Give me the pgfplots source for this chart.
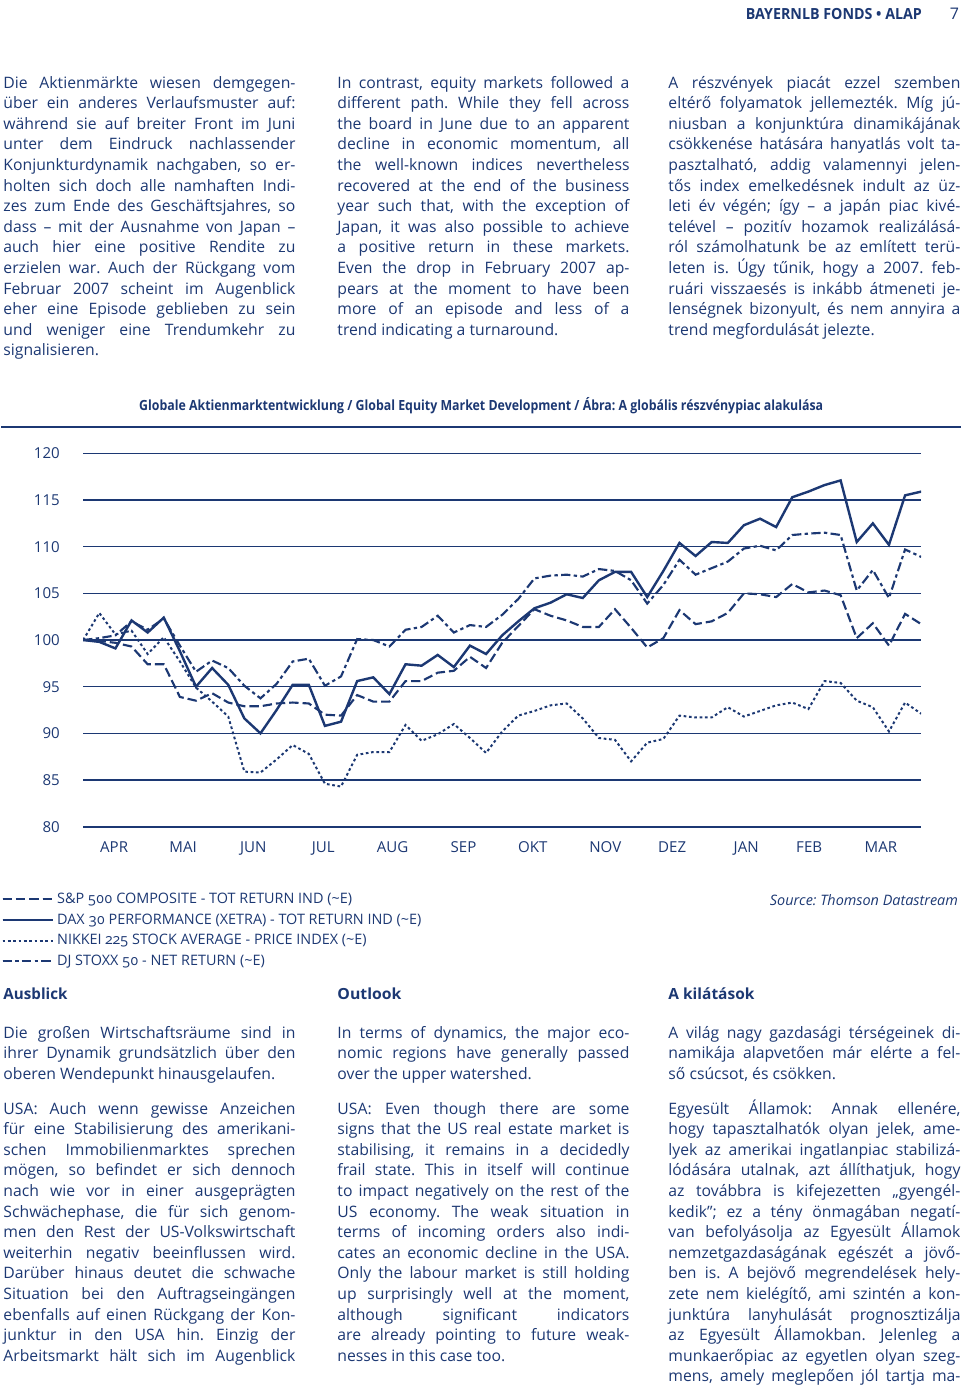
\documentclass[border=0pt]{standalone}
\usepackage{pgfplots}
\pgfplotsset{compat=1.18}
\usepackage{pgfplotstable}
\usepackage{graphicx}
\usepackage{fontspec}
\setmainfont{Open Sans}
\newfontfamily\legfont{Open Sans}[Numbers=OldStyle]
\definecolor{navy}{RGB}{28,56,115}
\frenchspacing

\pgfplotstableread{
i sp dax nik sx
0 100 100 100 100
1 99.9 99.8 102.9 100.2
2 99.7 99.1 100.6 100.5
3 99.3 102.1 101.0 102.0
4 97.4 100.8 98.5 101.1
5 97.4 102.4 100.3 102.3
6 93.9 98.8 97.7 99.4
7 93.5 95.0 94.9 96.6
8 94.3 97.0 93.4 97.8
9 93.3 95.2 91.8 97.0
10 92.9 91.6 85.9 95.1
11 92.9 90.0 85.8 93.75
12 93.2 92.5 87.2 95.3
13 93.3 95.2 88.75 97.7
14 93.2 95.2 87.8 98.0
15 92.0 90.8 84.6 95.1
16 91.9 91.25 84.3 96.1
17 94.1 95.6 87.7 100.1
18 93.4 96.0 88.0 100.0
19 93.4 94.2 88.0 99.3
20 95.6 97.4 90.9 101.1
21 95.6 97.25 89.2 101.4
22 96.5 98.4 89.9 102.6
23 96.7 97.1 91.0 100.8
24 98.2 99.4 89.5 101.6
25 97.0 98.5 87.9 101.4
26 99.7 100.5 90.2 102.7
27 101.5 102.0 91.9 104.4
28 103.3 103.4 92.4 106.6
29 102.6 104.0 93.0 106.9
30 102.1 104.9 93.2 107.0
31 101.4 104.5 91.6 106.8
32 101.4 106.4 89.5 107.6
33 103.3 107.3 89.3 107.4
34 101.3 107.3 87.0 106.4
35 99.2 104.6 89.0 103.9
36 100.2 107.4 89.4 105.9
37 103.2 110.4 91.9 108.6
38 101.7 109.0 91.7 107.0
39 102.0 110.5 91.7 107.7
40 102.9 110.4 92.8 108.4
41 105.0 112.3 91.8 109.8
42 104.9 113.0 92.4 110.1
43 104.6 112.1 93.0 109.6
44 106.0 115.3 93.3 111.25
45 105.1 115.9 92.6 111.4
46 105.3 116.6 95.6 111.5
47 104.8 117.1 95.4 111.25
48 100.2 110.5 93.5 105.3
49 101.8 112.5 92.8 107.5
50 99.4 110.2 90.2 104.5
51 102.8 115.5 93.3 109.7
52 101.7 115.9 92.1 108.9
}\idx

\newlength\colw \setlength\colw{219pt}
\newcommand\startcol[2]{\xdef\cx{#1}\xdef\cy{#2}}
\newcommand\nextl{\pgfmathsetmacro\tmpy{\cy+20.6}\xdef\cy{\tmpy}}
\newcommand\fitline[1]{\sbox0{#1}\ifdim\wd0>\colw\resizebox{\colw}{\height}{#1}\else\makebox[\colw][s]{#1}\fi}
\newcommand\JJ[1]{\node[anchor=base west,inner sep=0pt] at (\cx,\cy) {\fitline{#1}};\nextl}
\newcommand\EE[1]{\node[anchor=base west,inner sep=0pt] at (\cx,\cy) {#1};\nextl}
\newcommand\skipl{\pgfmathsetmacro\tmpy{\cy+14.2}\xdef\cy{\tmpy}}

\begin{document}
\begin{tikzpicture}
\begin{scope}[x=0.75pt,y=-0.75pt,every node/.style={text=navy,font=\fontsize{11.8pt}{13pt}\selectfont}]
\path (0,0) rectangle (960,1393);
% header
\node[anchor=base east,inner sep=0pt,font=\fontsize{11.5pt}{13pt}\selectfont\bfseries] at (921,19) {\resizebox{132pt}{\height}{BAYERNLB FONDS • ALAP}};
\node[anchor=base east,inner sep=0pt,font=\fontsize{12pt}{13pt}\selectfont] at (958,19) {7};

% top columns
\startcol{2}{88}
\JJ{Die Aktienmärkte wiesen demgegen-}
\JJ{über ein anderes Verlaufsmuster auf:}
\JJ{während sie auf breiter Front im Juni}
\JJ{unter dem Eindruck nachlassender}
\JJ{Konjunkturdynamik nachgaben, so er-}
\JJ{holten sich doch alle namhaften Indi-}
\JJ{zes zum Ende des Geschäftsjahres, so}
\JJ{dass – mit der Ausnahme von Japan –}
\JJ{auch hier eine positive Rendite zu}
\JJ{erzielen war. Auch der Rückgang vom}
\JJ{Februar 2007 scheint im Augenblick}
\JJ{eher eine Episode geblieben zu sein}
\JJ{und weniger eine Trendumkehr zu}
\EE{signalisieren.}

\startcol{336}{88}
\JJ{In contrast, equity markets followed a}
\JJ{different path. While they fell across}
\JJ{the board in June due to an apparent}
\JJ{decline in economic momentum, all}
\JJ{the well-known indices nevertheless}
\JJ{recovered at the end of the business}
\JJ{year such that, with the exception of}
\JJ{Japan, it was also possible to achieve}
\JJ{a positive return in these markets.}
\JJ{Even the drop in February 2007 ap-}
\JJ{pears at the moment to have been}
\JJ{more of an episode and less of a}
\EE{trend indicating a turnaround.}

\startcol{667}{88}
\JJ{A részvények piacát ezzel szemben}
\JJ{eltérő folyamatok jellemezték. Míg jú-}
\JJ{niusban a konjunktúra dinamikájának}
\JJ{csökkenése hatására hanyatlás volt ta-}
\JJ{pasztalható, addig valamennyi jelen-}
\JJ{tős index emelkedésnek indult az üz-}
\JJ{leti év végén; így – a japán piac kivé-}
\JJ{telével – pozitív hozamok realizálásá-}
\JJ{ról számolhatunk be az említett terü-}
\JJ{leten is. Úgy tűnik, hogy a 2007. feb-}
\JJ{ruári visszaesés is inkább átmeneti je-}
\JJ{lenségnek bizonyult, és nem annyira a}
\EE{trend megfordulását jelezte.}

% chart title and rule
\node[anchor=base,inner sep=0pt,font=\fontsize{10.5pt}{12pt}\selectfont\bfseries] at (480,410) {\resizebox{513pt}{\height}{Globale Aktienmarktentwicklung / Global Equity Market Development / Ábra: A globális részvénypiac alakulása}};
\draw[navy,line width=1.8pt] (0,427) -- (960,427);

% source
\node[anchor=base east,inner sep=0pt,font=\fontsize{10.8pt}{12pt}\selectfont\itshape] at (957,905) {Source: Thomson Datastream};

% section headings
\node[anchor=base west,inner sep=0pt,font=\fontsize{11.5pt}{13pt}\selectfont\bfseries] at (2,999) {\resizebox{48pt}{\height}{Ausblick}};
\node[anchor=base west,inner sep=0pt,font=\fontsize{11.5pt}{13pt}\selectfont\bfseries] at (336,999) {\resizebox{48pt}{\height}{Outlook}};
\node[anchor=base west,inner sep=0pt,font=\fontsize{11.5pt}{13pt}\selectfont\bfseries] at (667,999) {\resizebox{64.5pt}{\height}{A kilátások}};

% bottom columns
\startcol{2}{1038}
\JJ{Die großen Wirtschaftsräume sind in}
\JJ{ihrer Dynamik grundsätzlich über den}
\EE{oberen Wendepunkt hinausgelaufen.}
\skipl
\JJ{USA: Auch wenn gewisse Anzeichen}
\JJ{für eine Stabilisierung des amerikani-}
\JJ{schen Immobilienmarktes sprechen}
\JJ{mögen, so befindet er sich dennoch}
\JJ{nach wie vor in einer ausgeprägten}
\JJ{Schwächephase, die für sich genom-}
\JJ{men den Rest der US-Volkswirtschaft}
\JJ{weiterhin negativ beeinflussen wird.}
\JJ{Darüber hinaus deutet die schwache}
\JJ{Situation bei den Auftragseingängen}
\JJ{ebenfalls auf einen Rückgang der Kon-}
\JJ{junktur in den USA hin. Einzig der}
\JJ{Arbeitsmarkt hält sich im Augenblick}

\startcol{336}{1038}
\JJ{In terms of dynamics, the major eco-}
\JJ{nomic regions have generally passed}
\EE{over the upper watershed.}
\skipl
\JJ{USA: Even though there are some}
\JJ{signs that the US real estate market is}
\JJ{stabilising, it remains in a decidedly}
\JJ{frail state. This in itself will continue}
\JJ{to impact negatively on the rest of the}
\JJ{US economy. The weak situation in}
\JJ{terms of incoming orders also indi-}
\JJ{cates an economic decline in the USA.}
\JJ{Only the labour market is still holding}
\JJ{up surprisingly well at the moment,}
\JJ{although significant indicators}
\JJ{are already pointing to future weak-}
\EE{nesses in this case too.}

\startcol{667}{1038}
\JJ{A világ nagy gazdasági térségeinek di-}
\JJ{namikája alapvetően már elérte a fel-}
\EE{ső csúcsot, és csökken.}
\skipl
\JJ{Egyesült Államok: Annak ellenére,}
\JJ{hogy tapasztalhatók olyan jelek, ame-}
\JJ{lyek az amerikai ingatlanpiac stabilizá-}
\JJ{lódására utalnak, azt állíthatjuk, hogy}
\JJ{az továbbra is kifejezetten „gyengél-}
\JJ{kedik”; ez a tény önmagában negatí-}
\JJ{van befolyásolja az Egyesült Államok}
\JJ{nemzetgazdaságának egészét a jövő-}
\JJ{ben is. A bejövő megrendelések hely-}
\JJ{zete nem kielégítő, ami szintén a kon-}
\JJ{junktúra lanyhulását prognosztizálja}
\JJ{az Egyesült Államokban. Jelenleg a}
\JJ{munkaerőpiac az egyetlen olyan szeg-}
\JJ{mens, amely meglepően jól tartja ma-}
\end{scope}

\begin{axis}[
  at={(61.5pt,-620pt)}, anchor=south west,
  scale only axis, width=628.5pt, height=280pt,
  xmin=0, xmax=52, ymin=80, ymax=120,
  axis line style={draw=none},
  ytick={80,85,...,120},
  xtick={1.92,6.2,10.55,14.9,19.2,23.6,27.9,32.4,36.55,41.14,45.05,49.5},
  xticklabels={APR,MAI,JUN,JUL,AUG,SEP,OKT,NOV,DEZ,JAN,FEB,MAR},
  major tick length=0pt,
  ymajorgrids, grid style={navy, line width=0.8pt},
  extra y ticks={80}, extra y tick labels={},
  extra y tick style={grid style={navy, line width=1.6pt}},
  tick label style={font=\fontsize{11.3pt}{13pt}\selectfont, text=navy},
  /pgf/number format/assume math mode=true,
  yticklabel style={xshift=-14pt},
  xticklabel style={yshift=-8pt},
  legend style={at={(-0.0979,-0.17)}, anchor=north west, draw=none, fill=none,
    inner sep=0pt, font=\legfont\fontsize{10.8pt}{12pt}\selectfont, text=navy,
    row sep=2.2pt},
  legend cell align=left,
  legend image code/.code={\draw[#1] (0pt,0pt) -- (32pt,0pt); \path (0pt,0pt) -- (38pt,0pt);},
]
\addplot[navy, line width=1.6pt, dash pattern=on 7pt off 3pt] table[x=i,y=sp] {\idx};
\addlegendentry{S\&P 500 COMPOSITE - TOT RETURN IND (\textasciitilde E)}
\addplot[navy, line width=1.8pt] table[x=i,y=dax] {\idx};
\addlegendentry{DAX 30 PERFORMANCE (XETRA) - TOT RETURN IND (\textasciitilde E)}
\addplot[navy, line width=1.5pt, dash pattern=on 2pt off 2pt] table[x=i,y=nik] {\idx};
\addlegendentry{NIKKEI 225 STOCK AVERAGE - PRICE INDEX (\textasciitilde E)}
\addplot[navy, line width=1.6pt, dash pattern=on 7pt off 2.5pt on 2.5pt off 2.5pt] table[x=i,y=sx] {\idx};
\addlegendentry{DJ STOXX 50 - NET RETURN (\textasciitilde E)}
\end{axis}
\end{tikzpicture}
\end{document}
